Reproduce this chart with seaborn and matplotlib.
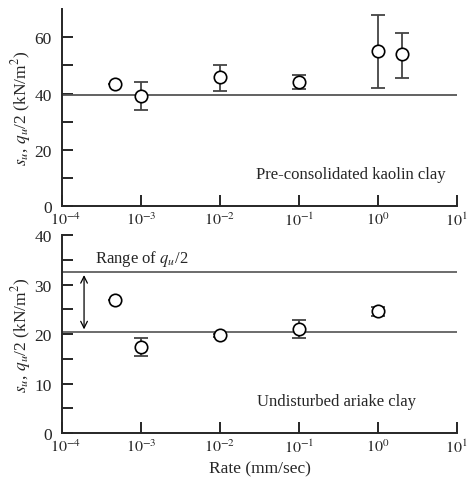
import numpy as np
import pandas as pd
import seaborn as sns
import matplotlib
matplotlib.use("Agg")
import matplotlib.pyplot as plt
from matplotlib.transforms import ScaledTranslation

# ---- data ----
top_rate = [4.7e-4, 1e-3, 1e-2, 1e-1, 1.0, 2.0]
top_su = [43.5, 39.0, 46.0, 44.0, 55.0, 54.0]
top_lo = [43.5, 34.0, 41.0, 41.5, 42.0, 45.5]
top_hi = [43.5, 44.0, 50.0, 46.5, 68.0, 61.5]
top_line = 39.5

bot_rate = [4.7e-4, 1e-3, 1e-2, 1e-1, 1.0]
bot_su = [27.0, 17.3, 19.8, 21.1, 24.6]
bot_lo = [27.0, 15.5, 19.5, 19.3, 23.6]
bot_hi = [27.0, 19.2, 20.1, 22.8, 25.5]
bot_lines = [20.4, 32.5]
arrow_x = 1.9e-4

xticks = [1e-4, 1e-3, 1e-2, 1e-1, 1e0, 1e1]
xticklabels = [r"$10^{-4}$", r"$10^{-3}$", r"$10^{-2}$", r"$10^{-1}$", r"$10^{0}$", r"$10^{1}$"]

sns.set_style("ticks")
plt.rcParams["font.family"] = ["Liberation Serif", "DejaVu Serif"]
plt.rcParams["mathtext.fontset"] = "stix"
plt.rcParams["font.size"] = 12

fig = plt.figure(figsize=(4.7, 4.85), dpi=100)
ax1 = fig.add_axes([0.132, 0.573, 0.840, 0.406])
ax2 = fig.add_axes([0.132, 0.105, 0.840, 0.408])

ylabel = r"$s_u$, $q_u$/2 (kN/m$^2$)"

def style(ax, ymax, major, minor):
    ax.set_xscale("log")
    ax.set_xlim(1e-4, 1e1)
    ax.set_ylim(0, ymax)
    ax.set_xticks(xticks)
    ax.set_xticklabels(xticklabels)
    ax.xaxis.set_minor_locator(matplotlib.ticker.NullLocator())
    ax.set_yticks(major)
    ax.set_yticks(minor, minor=True)
    ax.tick_params(axis="x", which="major", direction="in", length=8, width=1.4, labelsize=11.5, pad=4)
    ax.tick_params(axis="y", which="major", direction="in", length=8, width=1.4, labelsize=12.5, pad=7.5)
    ax.tick_params(axis="y", which="minor", direction="in", length=8, width=1.4)
    for s in ["top", "right"]:
        ax.spines[s].set_visible(False)
    for s in ["left", "bottom"]:
        ax.spines[s].set_linewidth(1.4)
    ax.set_ylabel(ylabel, fontsize=12.5, labelpad=1)
    first = ax.get_xticklabels()[0]
    first.set_transform(first.get_transform() + ScaledTranslation(4 / 100, 0, fig.dpi_scale_trans))

def draw(ax, rate, su, lo, hi):
    df = pd.DataFrame({"rate": rate, "su": su})
    yerr = [np.array(su) - np.array(lo), np.array(hi) - np.array(su)]
    ax.errorbar(rate, su, yerr=yerr, fmt="none", ecolor="#444444", elinewidth=1.3,
                capsize=5, capthick=1.3, zorder=2)
    sns.scatterplot(data=df, x="rate", y="su", ax=ax, marker="o", s=80,
                    facecolor="white", edgecolor="black", linewidth=1.2, zorder=3)
    ax.set_xlabel("")

# top
ax1.axhline(top_line, color="#555555", lw=1.3, zorder=1)
draw(ax1, top_rate, top_su, top_lo, top_hi)
style(ax1, 70, [0, 20, 40, 60], [10, 30, 50])
ax1.text(0.46, 11.3, "Pre-consolidated kaolin clay", fontsize=12, ha="center", va="center")

# bottom
for yl in bot_lines:
    ax2.axhline(yl, color="#444444", lw=1.1, zorder=1)
draw(ax2, bot_rate, bot_su, bot_lo, bot_hi)
style(ax2, 40, [0, 10, 20, 30, 40], [5, 15, 25, 35])
ax2.annotate("", xy=(arrow_x, bot_lines[1]), xytext=(arrow_x, bot_lines[0]),
             arrowprops=dict(arrowstyle="<->", color="black", lw=0.9))
ax2.text(2.6e-4, 35.4, r"Range of $q_u$/2", fontsize=12, ha="left", va="center")
ax2.text(0.3, 6.5, "Undisturbed ariake clay", fontsize=12, ha="center", va="center")
ax2.set_xlabel("Rate (mm/sec)", fontsize=12.5, labelpad=3)

fig.savefig("out.png", dpi=100)
